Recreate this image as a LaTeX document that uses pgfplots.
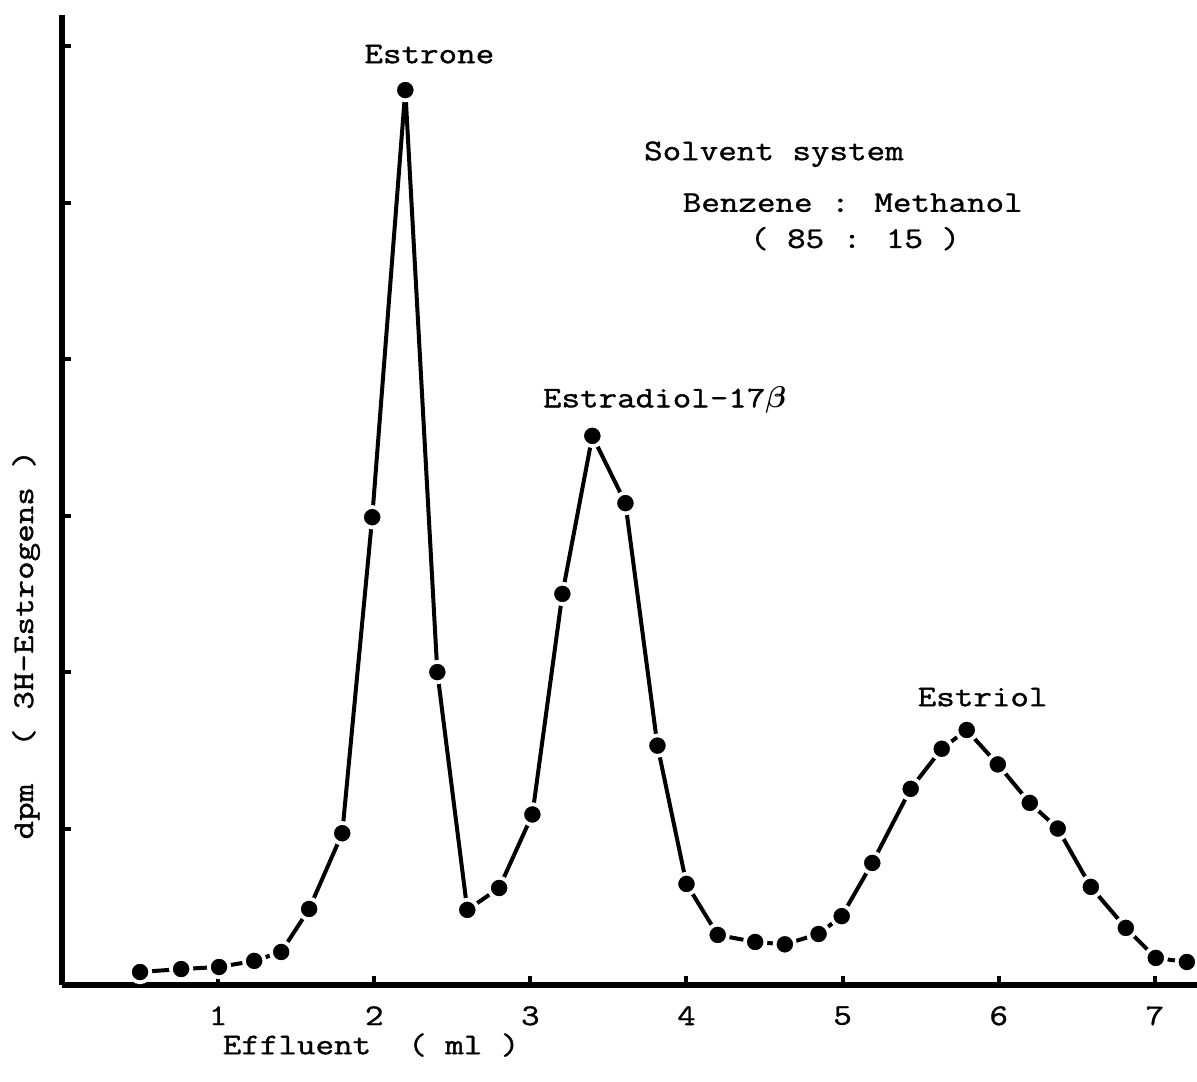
\documentclass[border=0pt]{standalone}
\usepackage{amsmath}
\usepackage{fontspec}
\setmainfont{Latin Modern Mono}[FakeStretch=1.2, FakeBold=1.2]
\usepackage{pgfplots}
\pgfplotsset{compat=1.18}
\begin{document}
\begin{tikzpicture}[font=\fontsize{12}{14.4}\selectfont]
\begin{axis}[
 scale only axis, width=454pt, height=388pt,
 xmin=0, xmax=7.27, ymin=0, ymax=6.2,
 axis x line=bottom, axis y line=left,
 axis line style={-, line width=2.2pt},
 xtick={1,2,3,4,5,6,7}, ytick={1,2,3,4,5,6}, yticklabels={},
 tick style={line width=1.6pt, black}, major tick length=3.5pt, tick align=inside,
 /pgf/number format/assume math mode=true,
 xticklabel style={yshift=-5pt},
 clip=false,
]
\addplot[black, line width=1.6pt, mark=*, mark size=4.1pt,
  mark options={fill=black, draw=white, line width=1.5pt, solid}] coordinates {
(0.50,0.083) (0.763,0.102) (1.006,0.115) (1.231,0.154) (1.404,0.211)
(1.583,0.486) (1.795,0.97) (1.987,2.99) (2.199,5.72) (2.404,2.00)
(2.596,0.48) (2.80,0.62) (3.013,1.09) (3.205,2.50) (3.397,3.51)
(3.609,3.08) (3.814,1.53) (4.0,0.646) (4.20,0.32) (4.44,0.275)
(4.63,0.26) (4.846,0.326) (4.994,0.44) (5.19,0.78) (5.436,1.254)
(5.635,1.51) (5.795,1.63) (5.994,1.41) (6.199,1.164) (6.378,1.0)
(6.59,0.627) (6.814,0.365) (7.006,0.173) (7.205,0.147)
};
\node at (axis cs:2.353,5.95) {Estrone};
\node at (axis cs:4.56,5.31) {Solvent system};
\node at (axis cs:5.065,5.00) {Benzene : Methanol};
\node at (axis cs:5.08,4.77) {( 85 : 15 )};
\node at (axis cs:3.86,3.74) {Estradiol-17$\boldsymbol{\beta}$};
\node at (axis cs:5.897,1.84) {Estriol};
\node at (axis cs:1.98,-0.384) {Effluent\ \ ( ml )};
\node[rotate=90] at (axis cs:-0.23,2.175) {dpm\ \ ( 3H-Estrogens )};
\end{axis}
\pgfresetboundingbox
\path ([xshift=-24.8pt,yshift=-38.8pt]current axis.south west) rectangle ([yshift=6pt]current axis.north east);
\end{tikzpicture}
\end{document}
